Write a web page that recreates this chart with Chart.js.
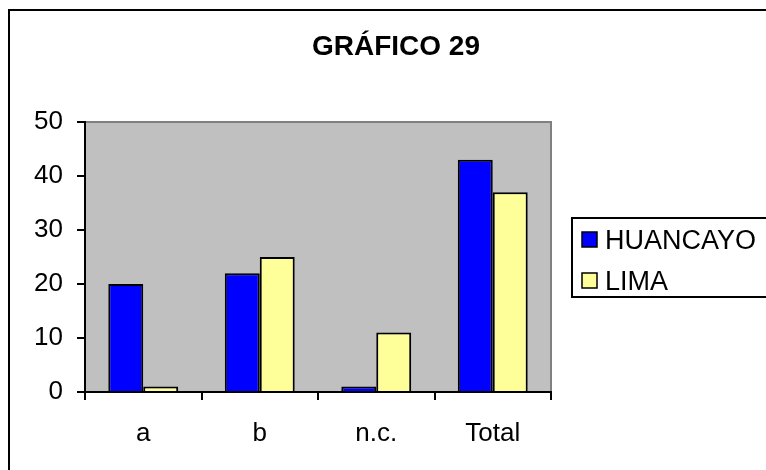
<!DOCTYPE html>
<html>
<head>
<meta charset="utf-8">
<script src="https://cdn.jsdelivr.net/npm/chart.js@4/dist/chart.umd.min.js"></script>
<style>
html,body{margin:0;padding:0;background:#fff;}
#wrap{width:766px;height:470px;position:relative;}
</style>
</head>
<body>
<div id="wrap"><canvas id="c" width="766" height="470"></canvas></div>
<script>
const categories = ["a", "b", "n.c.", "Total"];
const huancayo = [20, 22, 1, 43];
const lima = [1, 25, 11, 37];
const seriesNames = ["HUANCAYO", "LIMA"];
const titleText = "GRÁFICO 29";

const FONT = "'Liberation Sans', Arial, sans-serif";

const decor = {
  id: 'decor',
  beforeDraw(chart) {
    const ctx = chart.ctx;
    const a = chart.chartArea;
    ctx.save();
    ctx.strokeStyle = '#000';
    ctx.lineWidth = 2;
    ctx.beginPath();
    ctx.moveTo(9, 475);
    ctx.lineTo(9, 10);
    ctx.lineTo(780, 10);
    ctx.stroke();
    ctx.fillStyle = '#c0c0c0';
    ctx.fillRect(a.left, a.top, a.right - a.left, a.bottom - a.top);
    ctx.strokeStyle = '#808080';
    ctx.lineWidth = 2;
    ctx.beginPath();
    ctx.moveTo(a.left, a.top);
    ctx.lineTo(a.right, a.top);
    ctx.lineTo(a.right, a.bottom);
    ctx.stroke();
    ctx.restore();
  },
  afterDraw(chart) {
    const ctx = chart.ctx;
    ctx.save();
    ctx.fillStyle = '#000';
    ctx.font = "bold 28px " + FONT;
    ctx.textAlign = 'center';
    ctx.textBaseline = 'alphabetic';
    ctx.fillText(titleText, 396, 55);
    // legend box
    ctx.fillStyle = '#fff';
    ctx.fillRect(571, 217, 200, 80);
    ctx.strokeStyle = '#000';
    ctx.lineWidth = 2;
    ctx.strokeRect(572, 218, 200, 79);
    const ds = chart.data.datasets;
    const ys = [239, 280];
    ctx.font = "27px " + FONT;
    ctx.textAlign = 'left';
    ds.forEach((d, i) => {
      const y = ys[i];
      ctx.fillStyle = d.backgroundColor;
      ctx.fillRect(582, y - 7, 15, 15);
      ctx.strokeStyle = '#000';
      ctx.lineWidth = 1.5;
      ctx.strokeRect(582, y - 7, 15, 15);
      ctx.fillStyle = '#000';
      ctx.textBaseline = 'alphabetic';
      ctx.fillText(d.label, 605, y + 10);
    });
    ctx.restore();
  }
};

new Chart(document.getElementById('c'), {
  type: 'bar',
  data: {
    labels: categories,
    datasets: [
      { label: seriesNames[0], data: huancayo, backgroundColor: '#0000ff', borderColor: '#000', borderWidth: 2 },
      { label: seriesNames[1], data: lima, backgroundColor: '#ffff99', borderColor: '#000', borderWidth: 2 }
    ]
  },
  options: {
    responsive: false,
    animation: false,
    devicePixelRatio: 1,
    layout: { padding: { left: 0, right: 215, top: 122, bottom: 0 } },
    datasets: { bar: { categoryPercentage: 0.6, barPercentage: 1.0 } },
    plugins: { legend: { display: false }, title: { display: false }, tooltip: { enabled: false } },
    scales: {
      x: {
        grid: { display: true, drawOnChartArea: false, offset: true, color: '#000', lineWidth: 2, tickLength: 8 },
        border: { display: true, color: '#000', width: 2 },
        ticks: { color: '#000', font: { family: FONT, size: 26 }, padding: 18 },
        afterFit(s) { s.height = 78; }
      },
      y: {
        min: 0, max: 50,
        grid: { display: true, drawOnChartArea: false, color: '#000', lineWidth: 2, tickLength: 8 },
        border: { display: true, color: '#000', width: 2 },
        ticks: { stepSize: 10, color: '#000', font: { family: FONT, size: 26 }, padding: 14 },
        afterFit(s) { s.width = 85; }
      }
    }
  },
  plugins: [decor]
});
</script>
</body>
</html>
